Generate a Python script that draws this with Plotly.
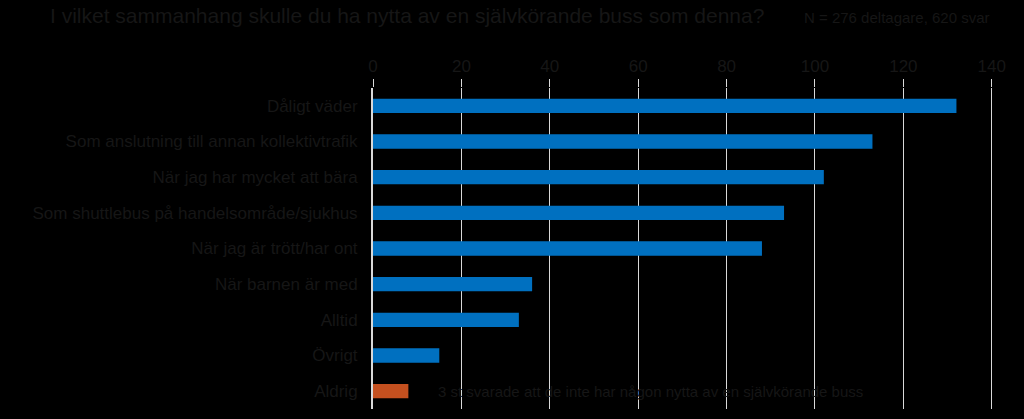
import plotly.graph_objects as go

categories = [
    "Dåligt väder",
    "Som anslutning till annan kollektivtrafik",
    "När jag har mycket att bära",
    "Som shuttlebus på handelsområde/sjukhus",
    "När jag är trött/har ont",
    "När barnen är med",
    "Alltid",
    "Övrigt",
    "Aldrig",
]
values = [132, 113, 102, 93, 88, 36, 33, 15, 8]
bar_colors = ["#0070C0"] * 8 + ["#C4501F"]
tick_vals = [0, 20, 40, 60, 80, 100, 120, 140]

title_text = "I vilket sammanhang skulle du ha nytta av en självkörande buss som denna?"
subtitle_text = "N = 276 deltagare, 620 svar"
note_text = "3 st svarade att de inte har någon nytta av en självkörande buss"

text_color = "#161616"

fig = go.Figure(
    go.Bar(
        x=values,
        y=categories,
        orientation="h",
        marker=dict(color=bar_colors, line=dict(width=0)),
        width=0.4,
    )
)

fig.update_layout(
    width=1024,
    height=419,
    paper_bgcolor="#000000",
    plot_bgcolor="#000000",
    margin=dict(l=373, r=30, t=88, b=10),
    showlegend=False,
    font=dict(family="Liberation Sans, Arial, sans-serif", color=text_color, size=17),
    xaxis=dict(
        side="top",
        range=[0, 140.5],
        tickvals=tick_vals,
        showgrid=True,
        gridcolor="#d9d9d9",
        gridwidth=1,
        zeroline=False,
        ticks="outside",
        ticklen=8,
        tickcolor="#d9d9d9",
        tickfont=dict(size=17, color=text_color),
        showline=False,
        fixedrange=True,
    ),
    yaxis=dict(
        categoryorder="array",
        categoryarray=categories[::-1],
        autorange=True,
        showgrid=False,
        showline=True,
        linecolor="#d9d9d9",
        linewidth=2,
        ticks="",
        ticklabelstandoff=10,
        tickfont=dict(size=17, color=text_color),
        zeroline=False,
        fixedrange=True,
    ),
    annotations=[
        dict(
            text=title_text,
            xref="paper", yref="paper",
            x=-0.524, y=1.0, yshift=73,
            xanchor="left", yanchor="middle",
            showarrow=False,
            font=dict(size=21, color=text_color),
        ),
        dict(
            text=subtitle_text,
            xref="paper", yref="paper",
            x=1.0, y=1.0, yshift=71, xshift=-2,
            xanchor="right", yanchor="middle",
            showarrow=False,
            font=dict(size=15, color=text_color),
        ),
        dict(
            text=note_text,
            xref="x", yref="y",
            x=14.3, y="Aldrig",
            xanchor="left", yanchor="middle",
            showarrow=False,
            font=dict(size=15, color=text_color),
        ),
    ],
)

fig.write_html(
    "out.html",
    config={"displayModeBar": False},
    post_script="document.body.style.margin='0';document.body.style.background='#000';",
)
